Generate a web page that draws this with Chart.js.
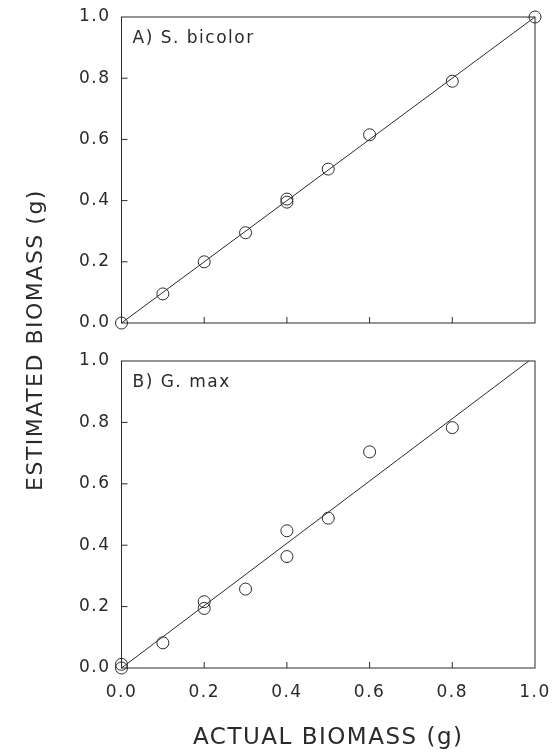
<!DOCTYPE html>
<html lang="en">
<head>
  <meta charset="UTF-8" />
  <title>Estimated vs actual biomass</title>
  <script src="https://cdn.jsdelivr.net/npm/chart.js"></script>
  <style>
    body { margin: 0; background: #fff; }
    #wrap { position: relative; width: 558px; height: 752px; }
    canvas { position: absolute; left: 0; top: 0; }
  </style>
</head>
<body>
  <div id="wrap">
    <canvas id="topChart" width="558" height="752"></canvas>
    <canvas id="botChart" width="558" height="752"></canvas>
  </div>

  <script>
    // axis ticks shared by both panels
    const tickValues = [0, 0.2, 0.4, 0.6, 0.8, 1.0];

    // A) S. bicolor
    const bicolorActual = [0, 0.1, 0.2, 0.3, 0.4, 0.4, 0.5, 0.6, 0.8, 1.0];
    const bicolorEst = [0, 0.095, 0.2, 0.295, 0.395, 0.405, 0.503, 0.615, 0.79, 1.0];
    const bicolorFitX = [0, 1.0];
    const bicolorFitY = [0, 1.0];

    // B) G. max
    const maxActual = [0, 0, 0.1, 0.2, 0.2, 0.3, 0.4, 0.4, 0.5, 0.6, 0.8];
    const maxEst = [0, 0.012, 0.082, 0.216, 0.194, 0.257, 0.447, 0.363, 0.488, 0.704, 0.783];
    const maxFitX = [0, 0.985];
    const maxFitY = [0, 1.0];

    const ink = '#2a2a2a';
    Chart.defaults.font.family = "'DejaVu Sans', sans-serif";
    Chart.defaults.color = ink;

    const toPoints = (xs, ys) => xs.map((v, i) => ({ x: v, y: ys[i] }));

    // frame, inward ticks, panel label and the shared y title
    const panelPlugin = {
      id: 'panel',
      beforeDraw(chart) {
        chart.ctx.letterSpacing = '1.5px';
      },
      afterDraw(chart, args, opts) {
        const { ctx, chartArea: a, scales: { x, y } } = chart;
        ctx.save();
        ctx.strokeStyle = ink;
        ctx.lineWidth = 1;
        ctx.strokeRect(a.left, a.top, a.width, a.height);
        ctx.beginPath();
        tickValues.slice(1, -1).forEach(v => {
          const px = x.getPixelForValue(v);
          const py = y.getPixelForValue(v);
          ctx.moveTo(px, a.bottom);
          ctx.lineTo(px, a.bottom - 6);
          ctx.moveTo(a.left, py);
          ctx.lineTo(a.left + 6, py);
        });
        ctx.stroke();

        ctx.fillStyle = ink;
        ctx.letterSpacing = '1.5px';
        ctx.textBaseline = 'middle';
        ctx.font = "17px 'DejaVu Sans'";
        ctx.fillText(opts.label, a.left + 11, a.top + 22);

        if (opts.yTitle) {
          ctx.translate(36, 340);
          ctx.rotate(-Math.PI / 2);
          ctx.textAlign = 'center';
          ctx.font = "22px 'DejaVu Sans'";
          ctx.fillText(opts.yTitle, 0, 0);
        }
        ctx.restore();
      }
    };

    function yScale() {
      return {
        type: 'linear',
        min: 0,
        max: 1,
        afterBuildTicks: s => { s.ticks = tickValues.map(v => ({ value: v })); },
        ticks: { callback: v => v.toFixed(1), font: { size: 17 }, padding: 11 },
        grid: { display: false, drawTicks: false },
        border: { display: false },
        afterFit: s => { s.width = 121.5; s.paddingTop = 0; s.paddingBottom = 0; }
      };
    }

    function datasets(xs, ys, fx, fy) {
      return [
        {
          data: toPoints(xs, ys),
          pointStyle: 'circle',
          pointRadius: 6,
          pointBorderWidth: 1,
          pointBackgroundColor: 'rgba(0,0,0,0)',
          pointBorderColor: ink,
          clip: false
        },
        {
          data: toPoints(fx, fy),
          showLine: true,
          pointRadius: 0,
          borderColor: ink,
          borderWidth: 1,
          clip: false
        }
      ];
    }

    new Chart(document.getElementById('topChart'), {
      type: 'scatter',
      data: { datasets: datasets(bicolorActual, bicolorEst, bicolorFitX, bicolorFitY) },
      options: {
        responsive: false,
        animation: false,
        devicePixelRatio: 1,
        layout: { padding: { left: 0, top: 17, right: 23, bottom: 429 } },
        scales: {
          x: { type: 'linear', min: 0, max: 1, display: false },
          y: yScale()
        },
        plugins: {
          legend: { display: false },
          tooltip: { enabled: false },
          panel: { label: 'A) S. bicolor', yTitle: 'ESTIMATED BIOMASS (g)' }
        }
      },
      plugins: [panelPlugin]
    });

    new Chart(document.getElementById('botChart'), {
      type: 'scatter',
      data: { datasets: datasets(maxActual, maxEst, maxFitX, maxFitY) },
      options: {
        responsive: false,
        animation: false,
        devicePixelRatio: 1,
        layout: { padding: { left: 0, top: 361, right: 23, bottom: 0 } },
        scales: {
          x: {
            type: 'linear',
            min: 0,
            max: 1,
            afterBuildTicks: s => { s.ticks = tickValues.map(v => ({ value: v })); },
            ticks: { callback: v => v.toFixed(1), font: { size: 17 }, padding: 14, maxRotation: 0, autoSkip: false },
            grid: { display: false, drawTicks: false },
            border: { display: false },
            title: { display: true, text: 'ACTUAL BIOMASS (g)', font: { size: 23 }, padding: { top: 0, bottom: 0 } },
            afterFit: s => { s.height = 84; s.paddingLeft = 0; s.paddingRight = 0; }
          },
          y: yScale()
        },
        plugins: {
          legend: { display: false },
          tooltip: { enabled: false },
          panel: { label: 'B) G. max' }
        }
      },
      plugins: [panelPlugin]
    });
  </script>
</body>
</html>
